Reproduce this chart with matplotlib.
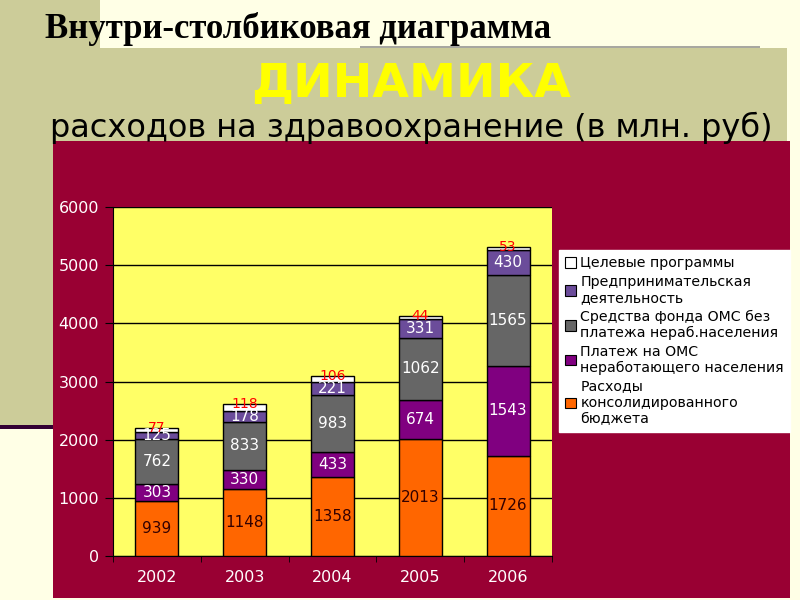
import numpy as np
import matplotlib.pyplot as plt
from matplotlib.patches import Rectangle

# data (млн. руб)
years = ['2002', '2003', '2004', '2005', '2006']
budget = [939, 1148, 1358, 2013, 1726]        # Расходы консолидированного бюджета
oms_pay = [303, 330, 433, 674, 1543]          # Платеж на ОМС неработающего населения
oms_fund = [762, 833, 983, 1062, 1565]        # Средства фонда ОМС без платежа
business = [125, 178, 221, 331, 430]          # Предпринимательская деятельность
programs = [77, 118, 106, 44, 53]             # Целевые программы

series_names = ['Расходы\nконсолидированного\nбюджета',
                'Платеж на ОМС\nнеработающего населения',
                'Средства фонда ОМС без\nплатежа нераб.населения',
                'Предпринимательская\nдеятельность',
                'Целевые программы']
series = [budget, oms_pay, oms_fund, business, programs]
colors = ['#FF6600', '#800080', '#666666', '#6B4C9A', '#FFFFFF']
label_colors = ['#330000', 'white', 'white', 'white', '#FF0000']

W, H = 800, 600
fig = plt.figure(figsize=(8, 6), dpi=100)
fig.patch.set_facecolor('#FFFFE6')


def box(x0, y0, x1, y1, color):
    # rectangle in pixel coords, y measured from the top
    fig.patches.append(Rectangle((x0 / W, 1 - y1 / H), (x1 - x0) / W, (y1 - y0) / H,
                                 transform=fig.transFigure, facecolor=color,
                                 edgecolor='none', zorder=-10))


box(0, 0, 100, 48, '#CCCC99')
box(0, 48, 787, 141, '#CCCC99')
box(360, 46, 760, 48, '#A8A8A0')
box(0, 141, 53, 425, '#CCCC99')
box(0, 425, 53, 429, '#330033')
box(53, 141, 790, 598, '#990033')

fig.text(45 / W, 1 - 29 / H, 'Внутри-столбиковая диаграмма', fontsize=25,
         fontweight='bold', family='Liberation Serif', color='black',
         va='center', ha='left')
fig.text(411 / W, 1 - 85 / H, 'ДИНАМИКА', fontsize=34, fontweight='bold',
         color='#FFFF00', ha='center', va='center', family='DejaVu Sans')
fig.text(411 / W, 1 - 128 / H, 'расходов на здравоохранение (в млн. руб)',
         fontsize=23, color='black', ha='center', va='center', family='DejaVu Sans')

ax = fig.add_axes([113 / W, 1 - 556 / H, (552 - 113) / W, (556 - 207) / H])
ax.set_facecolor('#FFFF66')

x = np.arange(len(years))
bottom = np.zeros(len(years))
handles = []
for vals, c, lc, name in zip(series, colors, label_colors, series_names):
    vals = np.array(vals)
    b = ax.bar(x, vals, 0.49, bottom=bottom, color=c, edgecolor='black',
               linewidth=1, label=name, zorder=3)
    handles.append(b)
    for xi, v, bt in zip(x, vals, bottom):
        if lc == '#FF0000':
            # red labels of the thin top segment sit on the bar top
            ax.text(xi, bt + v, str(v), ha='center', va='center', color=lc,
                    fontsize=10, zorder=5)
        else:
            ax.text(xi, bt + v / 2, str(v), ha='center', va='center', color=lc,
                    fontsize=11, zorder=5)
    bottom += vals

ax.set_xlim(-0.5, 4.5)
ax.set_ylim(0, 6000)
ax.set_yticks(range(0, 6001, 1000))
ax.grid(axis='y', color='black', linewidth=1, zorder=0)
ax.set_xticks(x)
ax.set_xticklabels(years)
ax.set_xticks(np.arange(-0.5, 5, 1), minor=True)
ax.tick_params(axis='x', which='major', length=0, pad=10, colors='white', labelsize=11.5)
ax.tick_params(axis='x', which='minor', length=4, color='black', direction='out')
ax.tick_params(axis='y', length=6, color='black', colors='white', labelsize=11.5, pad=4)
for s in ['top', 'right']:
    ax.spines[s].set_visible(False)
for s in ['left', 'bottom']:
    ax.spines[s].set_color('black')

leg = fig.legend(handles[::-1], series_names[::-1], loc='upper left',
                 bbox_to_anchor=(559 / W, 1 - 250 / H),
                 prop={'family': 'DejaVu Sans', 'size': 10.2},
                 frameon=True, fancybox=False, framealpha=1,
                 handlelength=0.75, handleheight=0.75, handletextpad=0.3,
                 labelspacing=0.32, borderpad=0.45, borderaxespad=0)
leg.get_frame().set_edgecolor('white')
leg.get_frame().set_facecolor('white')
for p in leg.get_patches():
    p.set_edgecolor('black')
    p.set_linewidth(0.8)

fig.savefig('out.png', dpi=100, facecolor=fig.get_facecolor())
